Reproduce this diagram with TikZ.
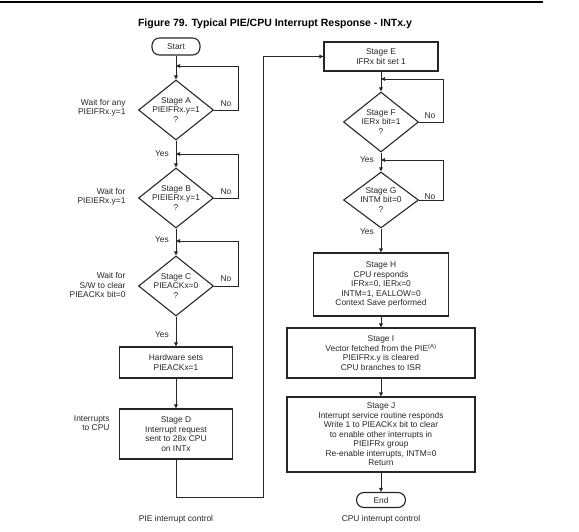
\documentclass[tikz,border=0pt]{standalone}
\usepackage{fontspec}
\setmainfont{Liberation Sans}
\usetikzlibrary{shapes.geometric,arrows.meta}

\begin{document}
\begin{tikzpicture}[x=1pt,y=-1pt,
  every node/.style={font=\fontsize{8.4}{9.5}\selectfont, text=black!85},
  box/.style={draw=black!85, line width=1.1pt, align=center, inner sep=0pt},
  dia/.style={diamond, draw=black!85, line width=1.1pt, align=center, inner sep=-8pt,
    minimum width=75pt, minimum height=60pt},
  term/.style={draw=black!85, line width=1.1pt, rounded corners=7.5pt, inner sep=0pt},
  flow/.style={draw=black!85, line width=0.9pt, -{Triangle[length=4pt,width=3.6pt]}}]
\useasboundingbox (0,0) rectangle (579,532);
\draw[line width=2.5pt] (0,2) -- (543,2);
\node[font=\bfseries\fontsize{10.5}{12}\selectfont, text=black] (title) at (275,24)
  {Figure 79. Typical PIE/CPU Interrupt Response - INTx.y};

% PIE side
\node[term, minimum width=48pt, minimum height=17pt] (start) at (176,46.5) {Start};
\node[dia] (A) at (176,110) {Stage A\\PIEIFRx.y=1\\?};
\node[dia] (B) at (176,198) {Stage B\\PIEIERx.y=1\\?};
\node[dia] (C) at (176,286) {Stage C\\PIEACKx=0\\?};
\node[box, minimum width=113pt, minimum height=31pt] (hw) at (176,362.5) {Hardware sets\\PIEACKx=1};
\node[box, minimum width=113pt, minimum height=50pt] (D) at (176,434)
  {Stage D\\Interrupt request\\sent to 28x CPU\\on INTx};

\node[align=right, anchor=east] (waitA) at (129,108) {Wait for any\\PIEIFRx.y=1};
\node[align=right, anchor=east] (waitB) at (129,197) {Wait for\\PIEIERx.y=1};
\node[align=right, anchor=east] (waitC) at (129,285) {Wait for\\S/W to clear\\PIEACKx bit=0};
\node[align=right, anchor=east] (tocpu) at (113,423) {Interrupts\\to CPU};

\node (noA) at (226,104) {No};
\node (noB) at (226,192) {No};
\node (noC) at (226,279) {No};
\node (yesA) at (162,154) {Yes};
\node (yesB) at (162,240) {Yes};
\node (yesC) at (162,335) {Yes};

\coordinate (Aturn) at (238,66);
\coordinate (Aback) at (176,66);
\coordinate (Bturn) at (238,154);
\coordinate (Bback) at (176,154);
\coordinate (Cturn) at (238,241);
\coordinate (Cback) at (176,241);
\coordinate (Dturn) at (263,497);

\draw[flow] (start) -- (A);
\draw[flow] (A.east) -| (Aturn) -- (Aback);
\draw[flow] (A) -- (B);
\draw[flow] (B.east) -| (Bturn) -- (Bback);
\draw[flow] (B) -- (C);
\draw[flow] (C.east) -| (Cturn) -- (Cback);
\draw[flow] (C) -- (hw);
\draw[flow] (hw) -- (D);

% CPU side
\node[box, minimum width=114pt, minimum height=29pt] (E) at (381,56.5) {Stage E\\IFRx bit set 1};
\node[dia] (F) at (381,122) {Stage F\\IERx bit=1\\?};
\node[dia, minimum height=56pt] (G) at (381,200) {Stage G\\INTM bit=0\\?};
\node[box, minimum width=135pt, minimum height=63pt] (H) at (381,284.5)
  {Stage H\\CPU responds\\IFRx=0, IERx=0\\INTM=1, EALLOW=0\\Context Save performed};
\node[box, minimum width=188pt, minimum height=50pt] (I) at (381,353)
  {Stage I\\Vector fetched from the PIE\textsuperscript{(A)}\\PIEIFRx.y is cleared\\CPU branches to ISR};
\node[box, minimum width=188pt, minimum height=75pt] (J) at (381,434.5)
  {Stage J\\Interrupt service routine responds\\Write 1 to PIEACKx bit to clear\\to enable other interrupts in\\PIEIFRx group\\Re-enable interrupts, INTM=0\\Return};
\node[term, minimum width=49pt, minimum height=15pt] (end) at (381,500) {End};

\node (noF) at (430,116) {No};
\node (noG) at (430,197) {No};
\node (yesF) at (367,160) {Yes};
\node (yesG) at (367,232) {Yes};

\coordinate (Fturn) at (443,79);
\coordinate (Fback) at (381,79);
\coordinate (Gturn) at (443,160);
\coordinate (Gback) at (381,160);

\draw[flow] (D.south) |- (Dturn) |- (E.west);
\draw[flow] (E) -- (F);
\draw[flow] (F.east) -| (Fturn) -- (Fback);
\draw[flow] (F) -- (G);
\draw[flow] (G.east) -| (Gturn) -- (Gback);
\draw[flow] (G) -- (H);
\draw[flow] (H) -- (I);
\draw[flow] (I) -- (J);
\draw[flow] (J) -- (end);

\node (piectl) at (176,519) {PIE interrupt control};
\node (cpuctl) at (381,519) {CPU interrupt control};
\end{tikzpicture}
\end{document}
